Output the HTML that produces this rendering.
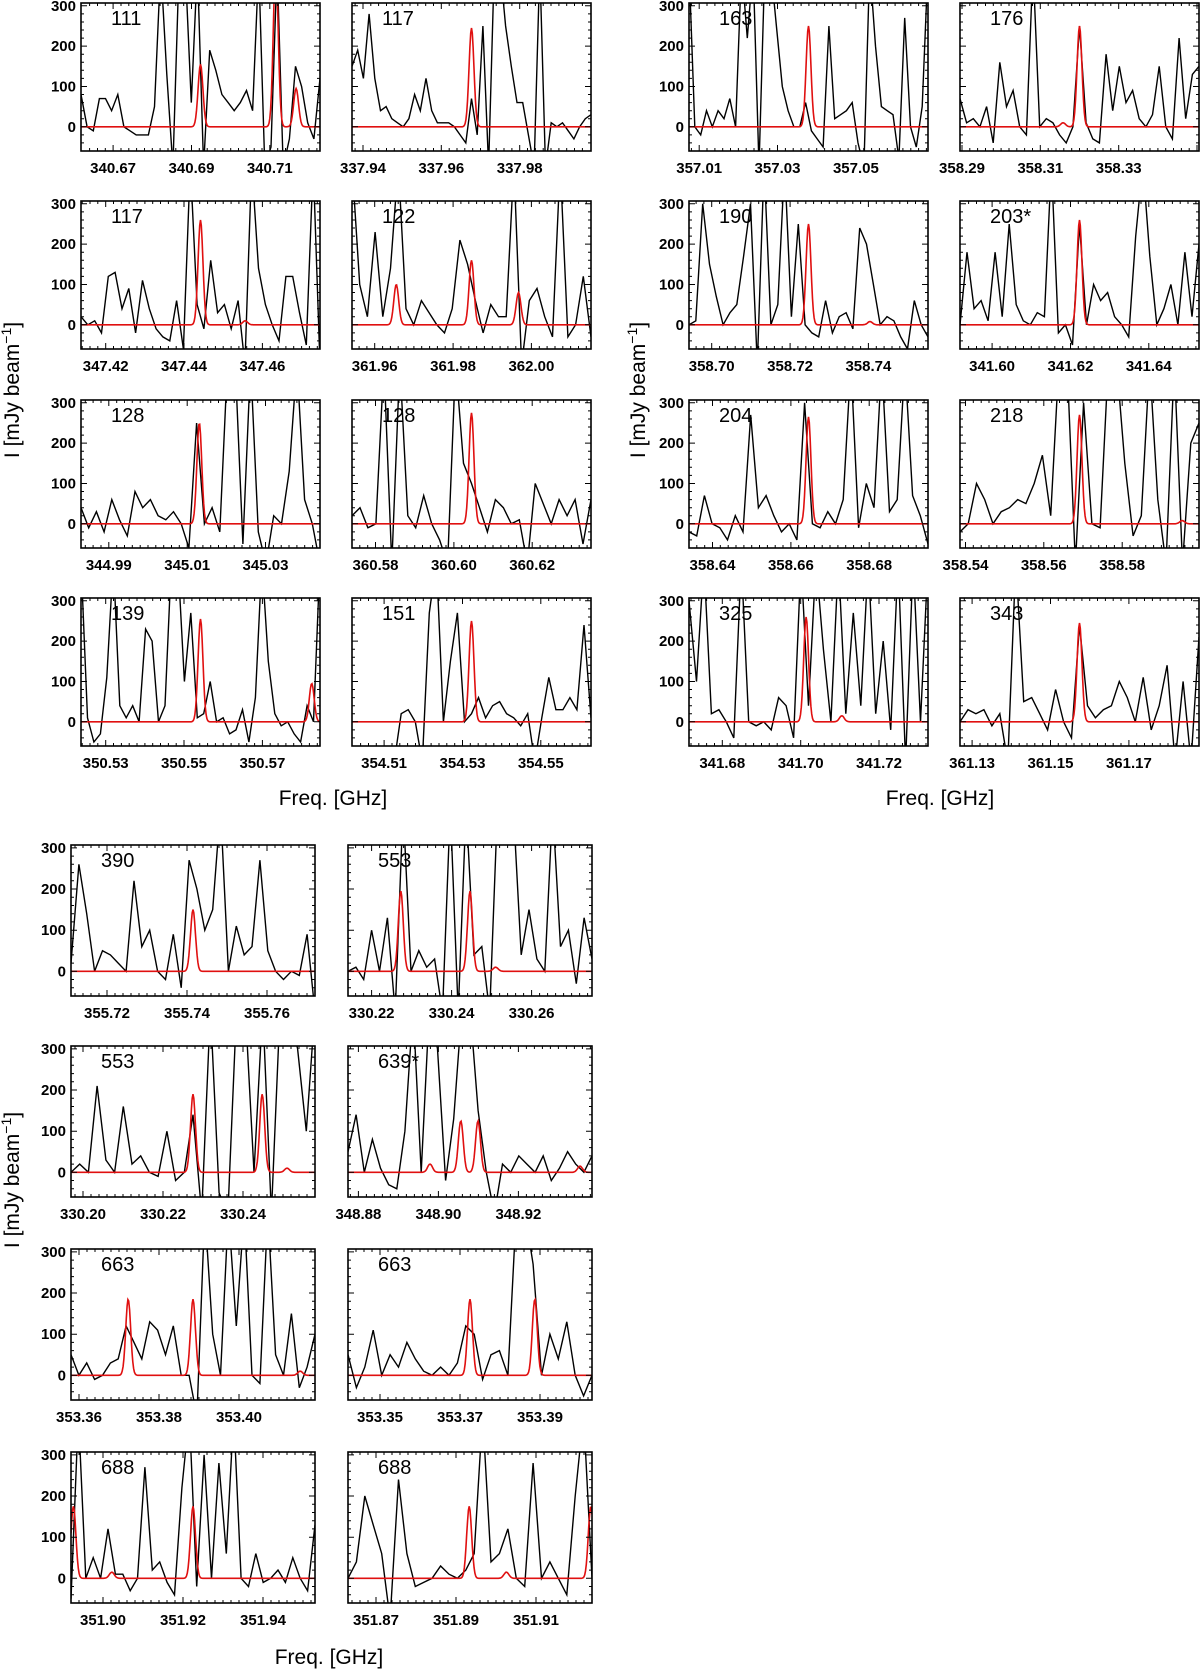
<!DOCTYPE html>
<html><head><meta charset="utf-8"><style>
html,body{margin:0;padding:0;background:#fff;}
svg{display:block;}
text{font-family:"Liberation Sans",sans-serif;}
.tk{font-size:15px;font-weight:bold;}
.pl{font-size:20px;}
.at{font-size:21px;}
</style></head><body>
<svg id="fig" width="1200" height="1671" viewBox="0 0 1200 1671" xmlns="http://www.w3.org/2000/svg">
<text class="at" x="333" y="805" text-anchor="middle">Freq. [GHz]</text>
<text class="at" x="940" y="805" text-anchor="middle">Freq. [GHz]</text>
<text class="at" x="329" y="1664" text-anchor="middle">Freq. [GHz]</text>
<text class="at" transform="translate(19,390) rotate(-90)" text-anchor="middle">I [mJy beam<tspan dy="-8" font-size="14">−1</tspan><tspan dy="8">]</tspan></text>
<text class="at" transform="translate(645,390) rotate(-90)" text-anchor="middle">I [mJy beam<tspan dy="-8" font-size="14">−1</tspan><tspan dy="8">]</tspan></text>
<text class="at" transform="translate(19,1180) rotate(-90)" text-anchor="middle">I [mJy beam<tspan dy="-8" font-size="14">−1</tspan><tspan dy="8">]</tspan></text>
</svg>
<script>
// ---- data ----
const panelLabels = ["111","117","163","176","117","122","190","203*","128","128","204","218","139","151","325","343","390","553","553","639*","663","663","688","688"];
const xStart = [340.6618,337.9372,357.0074,358.2895,347.4137,361.9542,358.6942,341.5918,344.9829,360.574,358.634,358.5386,350.5237,354.5018,341.6715,361.1269,355.711,330.2141,330.197,348.8774,353.358,353.342,351.892,351.863];
const xSpan = 0.061;
const tickLabels = [
["340.67","340.69","340.71"],["337.94","337.96","337.98"],["357.01","357.03","357.05"],["358.29","358.31","358.33"],
["347.42","347.44","347.46"],["361.96","361.98","362.00"],["358.70","358.72","358.74"],["341.60","341.62","341.64"],
["344.99","345.01","345.03"],["360.58","360.60","360.62"],["358.64","358.66","358.68"],["358.54","358.56","358.58"],
["350.53","350.55","350.57"],["354.51","354.53","354.55"],["341.68","341.70","341.72"],["361.13","361.15","361.17"],
["355.72","355.74","355.76"],["330.22","330.24","330.26"],["330.20","330.22","330.24"],["348.88","348.90","348.92"],
["353.36","353.38","353.40"],["353.35","353.37","353.39"],["351.90","351.92","351.94"],["351.87","351.89","351.91"]];
const yTicks = [0,100,200,300];
const spectra = [
[80,0,-10,70,70,40,80,0,-10,-20,-20,-20,50,400,130,-100,400,400,60,400,-100,190,140,80,60,40,60,90,40,400,-100,-50,400,-100,-30,150,100,10,-30,120],
[150,190,120,280,120,40,50,20,10,0,20,80,40,120,40,10,10,10,0,-20,-40,70,-20,250,-100,400,400,250,150,60,60,-20,-100,400,-100,10,0,10,-10,-30,0,20,30],
[400,0,-20,40,0,40,20,70,0,400,220,400,-100,400,400,250,100,40,0,0,60,-10,-30,-50,250,20,30,40,60,-40,-100,400,200,50,40,30,-80,270,0,-50,50,400],
[70,10,20,0,50,-40,160,50,90,0,-20,400,0,20,10,-20,-40,0,250,10,-30,-40,180,40,150,60,90,20,0,30,150,0,-30,220,20,130,150],
[20,0,10,-20,120,130,40,90,-20,110,40,-10,-30,-40,60,-60,400,50,-10,160,30,50,-10,60,-100,400,140,50,0,-40,120,120,30,-50,400,-100],
[400,100,20,230,20,140,400,40,0,60,30,0,-20,40,210,150,60,-20,50,20,20,400,-100,60,90,20,-30,400,-30,0,120,-30],
[0,10,300,150,70,0,30,50,170,300,-100,400,0,50,400,20,250,0,-20,-30,60,-20,20,30,-10,240,200,100,0,20,10,-30,-60,60,0,-30],
[0,180,40,60,10,180,20,250,50,10,0,30,20,400,-20,0,-50,250,0,100,60,80,20,0,-30,220,400,170,0,40,100,0,180,20,200],
[40,-10,30,-20,60,10,-30,80,40,60,20,10,30,0,-60,250,0,40,-20,400,400,-50,400,-20,-100,20,0,130,400,60,0,-100],
[20,40,-10,0,400,-100,400,20,-10,70,0,-40,-100,400,150,100,40,-20,60,40,0,10,-100,100,50,0,60,20,60,-50,60],
[-20,-30,70,0,-10,-40,20,-20,270,40,70,20,-20,0,-40,300,0,-10,30,0,60,400,-10,100,40,400,30,60,400,70,20,-50],
[-20,0,100,60,0,30,40,60,50,100,170,20,400,400,-100,300,0,-10,400,400,150,-30,20,400,60,-100,400,-100,200,250],
[400,10,-50,-30,110,400,40,10,40,0,230,200,0,40,400,400,100,270,10,20,100,0,10,-30,-20,30,-50,60,400,150,20,-10,0,-30,-50,40,0,400],
[-100,-100,-100,-100,-100,-100,-100,20,30,0,-100,270,400,0,150,270,0,20,60,10,40,50,20,10,-10,20,-100,10,110,30,30,60,30,240,10],
[300,100,400,20,30,0,-40,400,0,-10,0,-20,60,40,-40,400,40,400,180,0,400,20,270,40,400,20,200,-20,400,-100,400,0,400],
[0,30,20,30,-10,20,-100,400,50,60,20,-20,80,0,-40,240,40,10,30,40,100,60,0,110,-20,40,140,-100,100,-100,210],
[20,260,140,0,50,40,20,0,220,60,100,0,-20,90,-40,270,200,100,150,400,0,110,40,60,270,50,0,-20,0,-10,90,-100],
[0,10,-20,100,0,130,-100,400,0,50,10,30,-100,400,-100,400,40,60,-100,400,400,400,40,150,30,0,400,60,100,-30,130,30],
[0,20,0,210,30,0,160,20,40,0,-10,100,-20,0,140,-100,400,-50,-100,400,400,0,400,-100,400,400,300,100,400],
[50,140,0,80,10,-30,-40,100,400,0,400,300,-20,130,400,400,150,0,-100,20,0,40,20,0,40,-20,10,50,20,0,40],
[50,0,30,-10,0,30,40,120,80,40,130,110,50,120,0,0,-100,400,100,0,400,120,400,0,-20,400,50,0,150,-30,20,100],
[50,-30,20,110,0,50,20,80,40,10,0,20,0,30,120,100,-10,50,60,0,400,400,270,0,100,40,130,0,-50,0],
[-50,400,0,50,0,120,10,10,-30,0,270,20,40,-10,-40,220,400,-20,300,0,280,60,400,0,-20,60,-10,0,20,-10,50,0,-30,130],
[0,40,200,130,60,-100,240,60,-20,-10,0,30,10,0,20,60,400,40,60,120,0,-20,280,0,40,0,-40,200,400,0]];
const modelCenters = [[340.6923,340.7115,340.7167],[337.9677],[357.0379],[358.3158,358.3200],[347.4442,347.4556],[361.9655,361.9847,361.9967],[358.7247,358.7404],[341.6223],[345.0131],[360.6045],[358.6645],[358.5691,358.5953],[350.5542,350.5826],[354.5323],[341.7014,341.7105],[361.1574],[355.7415],[330.2273,330.2446,330.2510],[330.2275,330.2448,330.2510],[348.8979,348.9056,348.9099,348.9354],[353.3723,353.3885,353.4153],[353.3725,353.3887],[351.8926,351.9022,351.9225],[351.8933,351.9026,351.9237]];
const modelAmps = [[155,400,95],[245],[250],[10,250],[260,10],[100,160,80],[250,8],[260],[250],[275],[265],[270,8],[255,95],[250],[260,15],[245],[150],[195,195,10],[190,190,10],[20,125,125,15],[185,185,10],[185,185],[175,15,175],[175,15,175]];
// ---- layout (not data) ----
const upperX=[81,352,689,960], upperY=[3,201,400,598];
const lowerX=[71,348], lowerY=[845,1046,1249,1452];
function layout(i){
  if(i<16){return {x:upperX[i%4],y:upperY[Math.floor(i/4)],w:239,h:148};}
  const j=i-16; return {x:lowerX[j%2],y:lowerY[Math.floor(j/2)],w:244,h:151};
}
const NS="http://www.w3.org/2000/svg";
const svg=document.getElementById('fig');
function mk(tag,attrs,parent){const e=document.createElementNS(NS,tag);for(const k in attrs)e.setAttribute(k,attrs[k]);(parent||svg).appendChild(e);return e;}
const YMIN=-60,YMAX=307;
for(let i=0;i<24;i++){
  const L=layout(i);
  const x0=xStart[i];
  const sx=f=>L.x+(f-x0)/xSpan*L.w;
  const sy=v=>L.y+L.h-(v-YMIN)/(YMAX-YMIN)*L.h;
  const g=mk('g',{});
  
  
  const cp=mk('clipPath',{id:'c'+i},g);
  mk('rect',{x:L.x,y:L.y,width:L.w,height:L.h},cp);
  const d=spectra[i]; const n=d.length;
  let pts=d.map((v,k)=>sx(x0+k/(n-1)*xSpan).toFixed(1)+','+sy(v).toFixed(1)).join(' ');
  const pl=mk('polyline',{points:pts,fill:'none',stroke:'#000','stroke-width':1.4,'clip-path':'url(#c'+i+')'},g);
  
  
  const cs=modelCenters[i], as=modelAmps[i], s=0.00062;
  let rp=[];
  for(let k=0;k<=300;k++){const f=x0+k/300*xSpan;let v=0;for(let m=0;m<cs.length;m++){v+=as[m]*Math.exp(-((f-cs[m])**2)/(2*s*s));}
    rp.push(sx(f).toFixed(1)+','+sy(v).toFixed(1));}
  const rl=mk('polyline',{points:rp.join(' '),fill:'none',stroke:'#e01010','stroke-width':1.6,'clip-path':'url(#c'+i+')'},g);
  
  
  const fr=mk('rect',{x:L.x,y:L.y,width:L.w,height:L.h,fill:'none',stroke:'#000','stroke-width':1.6},g);
  
  
  const t0=parseFloat(tickLabels[i][0]);
  let path='';
  for(let k=-10;k<=40;k++){const f=t0+k*0.002; const X=sx(f); if(X<=L.x+1||X>=L.x+L.w-1)continue;
    const len=(k%10===0)?6:3; path+=`M${X.toFixed(1)},${L.y+L.h}v${-len}M${X.toFixed(1)},${L.y}v${len}`;}
  for(let v=-40;v<=300;v+=20){const Y=sy(v);const len=(v%100===0)?6:3;path+=`M${L.x},${Y.toFixed(1)}h${len}M${L.x+L.w},${Y.toFixed(1)}h${-len}`;}
  mk('path',{d:path,stroke:'#000','stroke-width':1,fill:'none'},g);
  tickLabels[i].forEach(t=>{const tx=mk('text',{class:'tk',x:sx(parseFloat(t)).toFixed(1),y:L.y+L.h+22,'text-anchor':'middle'},g);tx.textContent=t;
    
    });
  const firstCol = (i<16)? (i%2===0) : ((i-16)%2===0);
  if(firstCol){yTicks.forEach(v=>{const ty=mk('text',{class:'tk',x:L.x-5,y:(sy(v)+5).toFixed(1),'text-anchor':'end'},g);ty.textContent=v;
    
    });}
  const lb=mk('text',{class:'pl',x:L.x+30,y:L.y+22},g);lb.textContent=panelLabels[i];
  
  
}
</script>
</body></html>
